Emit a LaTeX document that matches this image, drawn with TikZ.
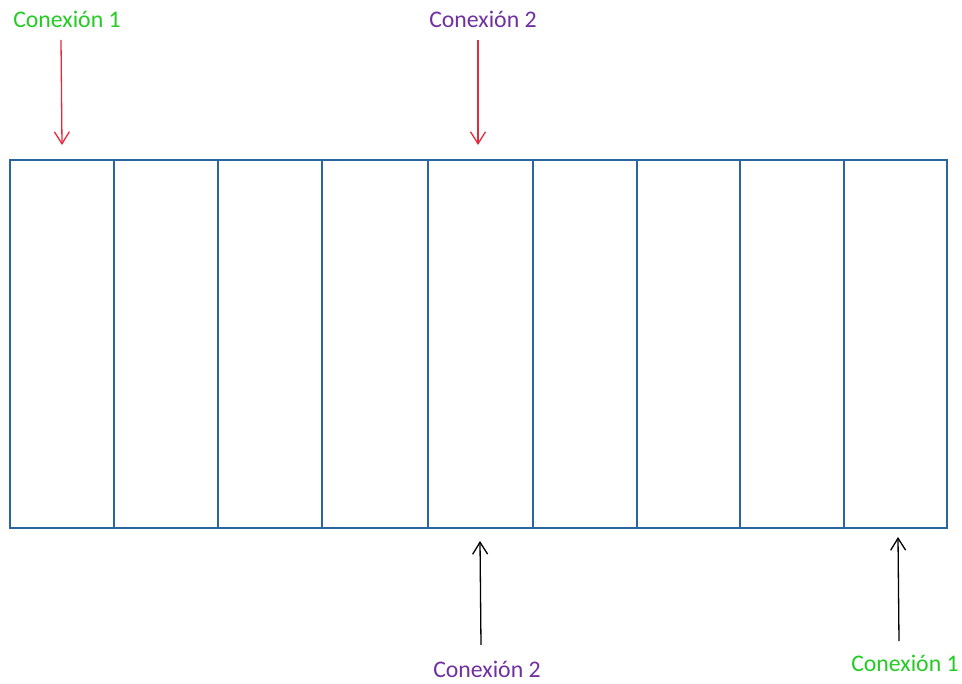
\documentclass[tikz,border=0pt]{standalone}
\usepackage{fontspec}
\setmainfont{Carlito}
\usetikzlibrary{arrows.meta}
\definecolor{boxblue}{HTML}{2B65A0}
\definecolor{cgreen}{HTML}{22CC22}
\definecolor{cpurple}{HTML}{7030A0}
\definecolor{cred}{HTML}{E8283C}
\tikzset{
  cell/.style={draw=boxblue, line width=1.7pt, rectangle},
  lab/.style={font=\fontsize{23.8}{26}\selectfont, inner sep=0pt, anchor=center},
  arr/.style={line width=1.3pt, -{Straight Barb[length=12pt,width=15pt,line width=1.3pt]}},
}
\begin{document}
\begin{tikzpicture}[x=1pt,y=-1pt]
\useasboundingbox (0,0) rectangle (962,684);
\foreach \i/\a/\b in {1/10/114,2/114/218,3/218/322,4/322/428,5/428/533,6/533/637,7/637/740,8/740/844,9/844/947}{
  \node[cell, minimum width={(\b-\a)*1pt}, minimum height=368pt, inner sep=0pt] (c\i) at ({(\a+\b)/2},344) {};
}
\node[lab, text=cgreen] (t1) at (67,19) {Conexión 1};
\node[lab, text=cpurple] (t2) at (483,19) {Conexión 2};
\node[lab, text=cpurple] (b2) at (487,669) {Conexión 2};
\node[lab, text=cgreen] (b1) at (905,663) {Conexión 1};
\coordinate (s1) at (61,40);
\coordinate (e1) at (62,145);
\coordinate (s2) at (478,40);
\coordinate (e2) at (478,145);
\coordinate (s3) at (481,645);
\coordinate (e3) at (480,541);
\coordinate (s4) at (899,641);
\coordinate (e4) at (898,537);
\draw[arr, cred] (s1) -- (e1);
\draw[arr, cred] (s2) -- (e2);
\draw[arr, black] (s3) -- (e3);
\draw[arr, black] (s4) -- (e4);
\end{tikzpicture}
\end{document}
